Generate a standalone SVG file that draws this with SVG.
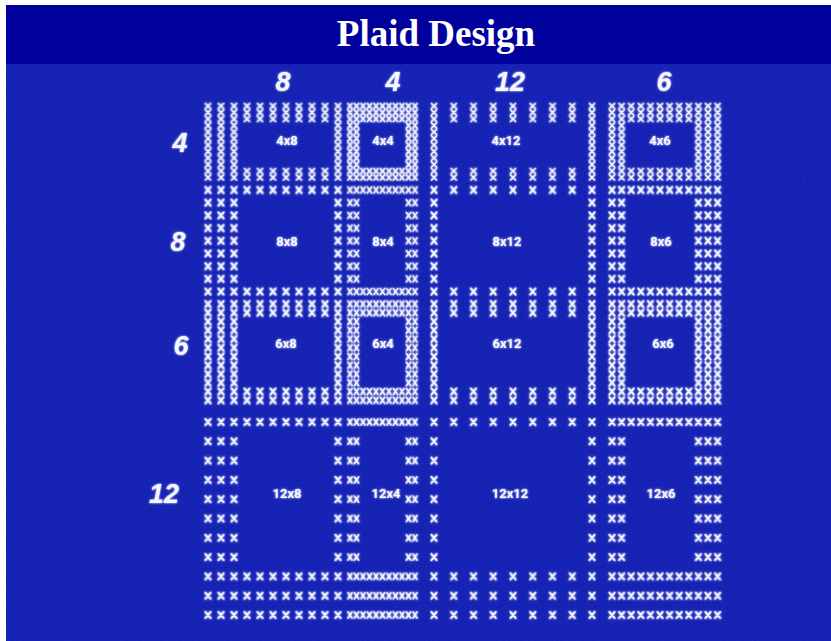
<svg xmlns="http://www.w3.org/2000/svg" width="831" height="641" viewBox="0 0 831 641">
<style>
.g{fill:none;stroke:#f4f8ff;stroke-width:1.8;stroke-linecap:round}
.gd{fill:none;stroke:#f4f8ff;stroke-width:1.5;stroke-linecap:round}
.lbl{font-family:Roboto,"Liberation Sans",sans-serif;font-size:13px;font-weight:bold;fill:#f4f7ff;text-anchor:middle}
.hd{font-family:"Liberation Sans",Arial,sans-serif;font-style:italic;font-weight:bold;font-size:27px;fill:#f4f7ff;text-anchor:middle}
.blk{fill-rule:evenodd}
</style>
<defs>
<filter id="glow" x="-5%" y="-5%" width="110%" height="110%">
<feGaussianBlur in="SourceGraphic" stdDeviation="1.1" result="b"/>
<feMerge><feMergeNode in="b"/><feMergeNode in="SourceGraphic"/></feMerge>
</filter>
<filter id="noise" x="0" y="0" width="100%" height="100%">
<feTurbulence type="fractalNoise" baseFrequency="0.9" numOctaves="2" seed="3"/>
<feColorMatrix type="matrix" values="0 0 0 0 0.15  0 0 0 0 0.2  0 0 0 0 0.9  0 0 0 0.9 -0.3"/>
</filter>
<pattern id="p4_8" patternUnits="userSpaceOnUse" x="201.5" y="102.75" width="13" height="6.5"><path class="gd" d="M3.9 0.7L9.1 5.8M9.1 0.7L3.9 5.8"/></pattern>
<pattern id="p4_4" patternUnits="userSpaceOnUse" x="346.75" y="102.75" width="6.5" height="6.5"><path class="gd" d="M1.1 0.7L5.4 5.8M5.4 0.7L1.1 5.8"/></pattern>
<pattern id="p4_12" patternUnits="userSpaceOnUse" x="424.125" y="102.75" width="19.75" height="6.5"><path class="gd" d="M7.275 0.7L12.475 5.8M12.475 0.7L7.275 5.8"/></pattern>
<pattern id="p4_6" patternUnits="userSpaceOnUse" x="607.2" y="102.75" width="9.6" height="6.5"><path class="gd" d="M2.2 0.7L7.4 5.8M7.4 0.7L2.2 5.8"/></pattern>
<pattern id="p8_8" patternUnits="userSpaceOnUse" x="201.5" y="183.65" width="13" height="12.7"><path class="g" d="M3.9 3.25L9.1 9.45M9.1 3.25L3.9 9.45"/></pattern>
<pattern id="p8_4" patternUnits="userSpaceOnUse" x="346.75" y="183.65" width="6.5" height="12.7"><path class="gd" d="M1.1 3.25L5.4 9.45M5.4 3.25L1.1 9.45"/></pattern>
<pattern id="p8_12" patternUnits="userSpaceOnUse" x="424.125" y="183.65" width="19.75" height="12.7"><path class="g" d="M7.275 3.25L12.475 9.45M12.475 3.25L7.275 9.45"/></pattern>
<pattern id="p8_6" patternUnits="userSpaceOnUse" x="607.2" y="183.65" width="9.6" height="12.7"><path class="g" d="M2.2 3.25L7.4 9.45M7.4 3.25L2.2 9.45"/></pattern>
<pattern id="p6_8" patternUnits="userSpaceOnUse" x="201.5" y="299.625" width="13" height="8.75"><path class="g" d="M3.9 1.275L9.1 7.475M9.1 1.275L3.9 7.475"/></pattern>
<pattern id="p6_4" patternUnits="userSpaceOnUse" x="346.75" y="299.625" width="6.5" height="8.75"><path class="gd" d="M1.1 1.275L5.4 7.475M5.4 1.275L1.1 7.475"/></pattern>
<pattern id="p6_12" patternUnits="userSpaceOnUse" x="424.125" y="299.625" width="19.75" height="8.75"><path class="g" d="M7.275 1.275L12.475 7.475M12.475 1.275L7.275 7.475"/></pattern>
<pattern id="p6_6" patternUnits="userSpaceOnUse" x="607.2" y="299.625" width="9.6" height="8.75"><path class="g" d="M2.2 1.275L7.4 7.475M7.4 1.275L2.2 7.475"/></pattern>
<pattern id="p12_8" patternUnits="userSpaceOnUse" x="201.5" y="412.35" width="13" height="19.3"><path class="g" d="M3.9 6.55L9.1 12.75M9.1 6.55L3.9 12.75"/></pattern>
<pattern id="p12_4" patternUnits="userSpaceOnUse" x="346.75" y="412.35" width="6.5" height="19.3"><path class="gd" d="M1.1 6.55L5.4 12.75M5.4 6.55L1.1 12.75"/></pattern>
<pattern id="p12_12" patternUnits="userSpaceOnUse" x="424.125" y="412.35" width="19.75" height="19.3"><path class="g" d="M7.275 6.55L12.475 12.75M12.475 6.55L7.275 12.75"/></pattern>
<pattern id="p12_6" patternUnits="userSpaceOnUse" x="607.2" y="412.35" width="9.6" height="19.3"><path class="g" d="M2.2 6.55L7.4 12.75M7.4 6.55L2.2 12.75"/></pattern>
</defs>

<rect x="0" y="0" width="831" height="641" fill="#ffffff"/>
<rect x="6" y="5" width="825" height="59" fill="#00009c"/>
<rect x="6" y="64" width="825" height="577" fill="#1420b2"/>
<rect x="6" y="64" width="825" height="577" filter="url(#noise)" opacity="0.22"/>

<text x="436" y="46" font-family="'Liberation Serif','Times New Roman',serif" font-weight="bold" font-size="37" fill="#ffffff" text-anchor="middle">Plaid Design</text>

<g id="headers" filter="url(#glow)">
<text class="hd" x="283" y="91">8</text>
<text class="hd" x="393" y="91">4</text>
<text class="hd" x="510" y="91">12</text>
<text class="hd" x="664" y="91">6</text>
<text class="hd" x="180" y="152">4</text>
<text class="hd" x="178" y="251">8</text>
<text class="hd" x="181" y="355">6</text>
<text class="hd" x="164" y="503">12</text>
</g>

<g id="connectors"></g>

<g id="stitches" filter="url(#glow)">
<g id="block-4x8"><path class="blk" fill="url(#p4_8)" d="M201.5 102.75H344.5V180.75H201.5Z M240.5 122.25H331.5V167.75H240.5Z"/><text class="lbl" x="287" y="145">4x8</text></g>
<g id="block-4x4"><path class="blk" fill="url(#p4_4)" d="M346.75 102.75H418.25V180.75H346.75Z M359.75 122.25H405.25V167.75H359.75Z"/><text class="lbl" x="383" y="145">4x4</text></g>
<g id="block-4x12"><path class="blk" fill="url(#p4_12)" d="M424.125 102.75H601.875V180.75H424.125Z M443.875 122.25H582.125V167.75H443.875Z"/><text class="lbl" x="506" y="145">4x12</text></g>
<g id="block-4x6"><path class="blk" fill="url(#p4_6)" d="M607.2 102.75H722.4V180.75H607.2Z M626.4 122.25H693.6V167.75H626.4Z"/><text class="lbl" x="660" y="145">4x6</text></g>

<g id="block-8x8"><path class="blk" fill="url(#p8_8)" d="M201.5 183.65H344.5V297.95H201.5Z M240.5 196.35H331.5V285.25H240.5Z"/><text class="lbl" x="287" y="246">8x8</text></g>
<g id="block-8x4"><path class="blk" fill="url(#p8_4)" d="M346.75 183.65H418.25V297.95H346.75Z M359.75 196.35H405.25V285.25H359.75Z"/><text class="lbl" x="383" y="246">8x4</text></g>
<g id="block-8x12"><path class="blk" fill="url(#p8_12)" d="M424.125 183.65H601.875V297.95H424.125Z M443.875 196.35H582.125V285.25H443.875Z"/><text class="lbl" x="507" y="246">8x12</text></g>
<g id="block-8x6"><path class="blk" fill="url(#p8_6)" d="M607.2 183.65H722.4V297.95H607.2Z M626.4 196.35H693.6V285.25H626.4Z"/><text class="lbl" x="661" y="246">8x6</text></g>

<g id="block-6x8"><path class="blk" fill="url(#p6_8)" d="M201.5 299.625H344.5V404.625H201.5Z M240.5 317.125H331.5V387.125H240.5Z"/><text class="lbl" x="286" y="348">6x8</text></g>
<g id="block-6x4"><path class="blk" fill="url(#p6_4)" d="M346.75 299.625H418.25V404.625H346.75Z M359.75 317.125H405.25V387.125H359.75Z"/><text class="lbl" x="383" y="348">6x4</text></g>
<g id="block-6x12"><path class="blk" fill="url(#p6_12)" d="M424.125 299.625H601.875V404.625H424.125Z M443.875 317.125H582.125V387.125H443.875Z"/><text class="lbl" x="507" y="348">6x12</text></g>
<g id="block-6x6"><path class="blk" fill="url(#p6_6)" d="M607.2 299.625H722.4V404.625H607.2Z M626.4 317.125H693.6V387.125H626.4Z"/><text class="lbl" x="663" y="348">6x6</text></g>

<g id="block-12x8"><path class="blk" fill="url(#p12_8)" d="M201.5 412.35H344.5V624.65H201.5Z M240.5 431.65H331.5V566.75H240.5Z"/><text class="lbl" x="287" y="498">12x8</text></g>
<g id="block-12x4"><path class="blk" fill="url(#p12_4)" d="M346.75 412.35H418.25V624.65H346.75Z M359.75 431.65H405.25V566.75H359.75Z"/><text class="lbl" x="386" y="498">12x4</text></g>
<g id="block-12x12"><path class="blk" fill="url(#p12_12)" d="M424.125 412.35H601.875V624.65H424.125Z M443.875 431.65H582.125V566.75H443.875Z"/><text class="lbl" x="510" y="498">12x12</text></g>
<g id="block-12x6"><path class="blk" fill="url(#p12_6)" d="M607.2 412.35H722.4V624.65H607.2Z M626.4 431.65H693.6V566.75H626.4Z"/><text class="lbl" x="661" y="498">12x6</text></g>
</g>
</svg>
